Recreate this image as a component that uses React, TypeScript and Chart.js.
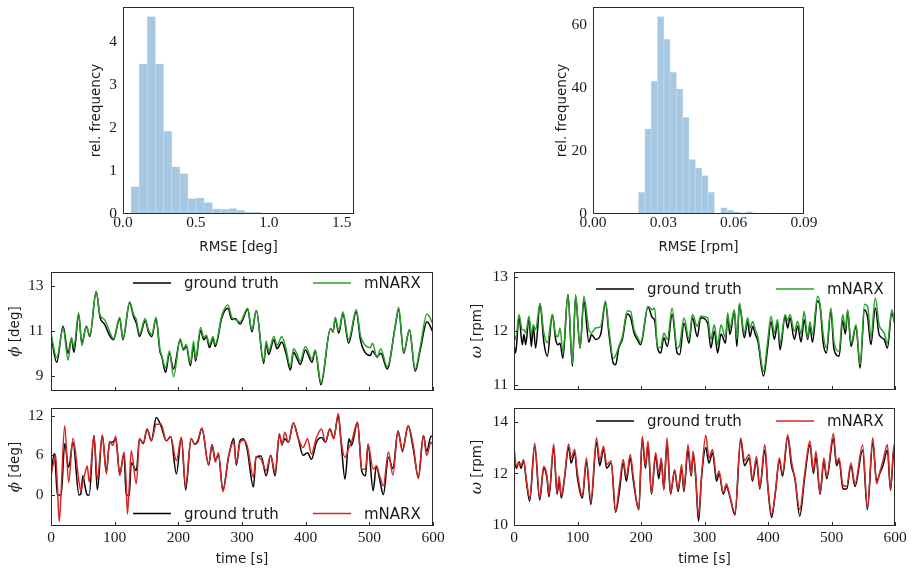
import React, { useEffect, useRef } from "react";
import { Chart, registerables } from "chart.js";

Chart.register(...registerables);

// ---------- histogram data ----------
const rmseDegBinStart = 0.055;
const rmseDegBinWidth = 0.0558;
const rmseDegFreq = [
  0.64, 3.49, 4.59, 3.49, 1.92, 1.1, 0.94, 0.36, 0.37, 0.27, 0.12, 0.11, 0.13,
  0.085, 0.04, 0.04, 0.015, 0, 0.012, 0.012, 0.012, 0, 0.012, 0, 0, 0.012,
];
const rmseRpmBinStart = 0.0194;
const rmseRpmBinWidth = 0.0027;
const rmseRpmFreq = [
  6.9, 27.0, 42.1, 62.6, 55.4, 44.9, 39.6, 30.7, 17.3, 14.6, 12.2, 6.9, 0.3,
  2.0, 1.2, 0.7, 0.4, 0.8, 0.4, 0.3, 0.2, 0.4, 0.1,
];

const rmseDegTicksX = [0, 0.5, 1.0, 1.5];
const rmseDegTicksY = [0, 1, 2, 3, 4];
const rmseRpmTicksX = [0, 0.03, 0.06, 0.09];
const rmseRpmTicksY = [0, 20, 40, 60];
const timeTicks = [0, 100, 200, 300, 400, 500, 600];

// ---------- pitch angle, validation run A ----------
const pitchTimeA = [
  0, 9, 19, 27, 32, 36, 43.5, 48.5, 55.5, 61, 71, 77, 84, 93, 98, 108, 113,
  123.5, 130, 134, 139, 148, 153, 158.5, 165, 171, 174, 180, 186, 192.5, 203,
  208, 212.5, 219, 224, 227, 235, 240, 244, 249, 254.5, 258, 268.5, 278, 284,
  289.5, 297, 309, 315.5, 322.5, 334, 338, 342, 350, 355, 362.5, 369, 376, 381,
  386, 391.5, 399.5, 410, 415, 424, 439, 443, 446.5, 452, 458.5, 467.5, 479.5,
  486, 491, 501.5, 505, 512, 518, 528, 541, 546, 554, 563, 572, 580, 590.5, 600,
];
const pitchTruthA = [
  10.8, 9.6, 11.2, 10.0, 10.65, 10.05, 11.7, 10.45, 11.2, 10.75, 12.75, 11.6,
  11.3, 10.75, 10.6, 11.55, 10.6, 12.25, 11.6, 11.35, 10.75, 11.45, 10.95,
  10.75, 11.55, 10.1, 9.85, 9.15, 10.0, 9.3, 10.6, 10.15, 10.3, 9.45, 10.35,
  9.65, 11.0, 10.6, 10.75, 10.25, 10.65, 10.3, 11.6, 12.0, 11.5, 11.55, 11.3,
  11.95, 10.95, 11.9, 9.55, 10.4, 9.95, 10.6, 10.2, 10.5, 10.0, 9.25, 10.05,
  9.8, 9.5, 10.15, 9.6, 10.1, 8.6, 11.1, 10.95, 11.55, 10.9, 11.75, 10.45,
  11.85, 10.6, 10.15, 9.9, 10.1, 9.85, 10.0, 9.3, 11.25, 11.95, 10.0, 11.05,
  9.2, 10.15, 11.4, 10.95,
];
const pitchModelA = [
  10.9, 9.8, 11.1, 9.7, 10.7, 10.3, 11.8, 10.35, 11.2, 10.8, 12.75, 11.7, 11.5,
  10.9, 10.65, 11.6, 10.65, 12.3, 11.7, 11.5, 10.85, 11.55, 11.05, 10.85, 11.6,
  10.2, 9.9, 9.35, 10.1, 8.95, 10.65, 10.2, 10.4, 9.55, 10.55, 9.75, 11.15,
  10.7, 10.8, 10.4, 10.75, 10.4, 11.7, 12.15, 11.6, 11.5, 11.4, 12.0, 11.05,
  11.9, 9.65, 10.55, 10.1, 10.75, 10.35, 10.75, 10.2, 9.4, 10.2, 10.0, 9.65,
  10.3, 9.75, 10.15, 8.7, 11.1, 10.95, 11.6, 11.0, 11.85, 10.6, 11.95, 10.8,
  10.45, 10.25, 10.45, 9.8, 10.2, 9.4, 11.25, 12.05, 10.05, 11.05, 9.3, 10.3,
  11.75, 11.3,
];
const pitchTicksA = [9, 11, 13];

// ---------- pitch angle, validation run B ----------
const pitchTimeB = [
  0, 5, 7, 10, 13, 16, 21.5, 27.7, 34.5, 44, 47, 50, 54, 57, 60, 67.5, 72.8,
  80.6, 87, 92, 97, 101.6, 108, 114.7, 118, 120, 123, 126, 134, 139, 145, 151,
  157.6, 165.4, 173, 181, 188, 197, 204.7, 211.5, 220, 226, 231, 237, 247.6,
  253, 258, 263, 270, 279, 287, 291, 297, 302, 308, 318, 322, 330, 338, 345,
  352, 358.6, 363, 367, 373, 380.6, 388, 396, 403, 409, 417, 425, 431, 438,
  444, 451.3, 456, 461.8, 468, 472, 481.5, 488, 494, 498, 506, 511, 516, 522,
  530, 537, 545, 552, 561, 569, 577, 585, 590, 597, 600,
];
const pitchTruthB = [
  2.7, 6.3, 4.5, 0, 0, 0, 7.8, 4.2, 8.0, 0, 0.2, 2.9, 1.0, 0, 0, 9.0, 0.75,
  9.0, 3.5, 8.0, 8.0, 8.5, 3.2, 6.3, 0, 0, 0, 4.9, 3.7, 8.5, 7.8, 10.0, 8.2,
  11.75, 10.4, 8.2, 8.8, 3.2, 8.7, 0.75, 8.5, 7.7, 8.2, 10.1, 4.5, 7.6, 5.3,
  6.0, 0.76, 5.8, 8.6, 4.5, 8.3, 8.5, 7.0, 1.2, 5.7, 5.9, 2.9, 6.0, 2.9, 9.0,
  7.7, 8.5, 8.0, 10.9, 8.7, 6.0, 6.4, 5.4, 8.0, 8.7, 8.0, 10.0, 8.7, 12.0, 7.5,
  2.4, 8.5, 7.5, 11.0, 3.7, 2.9, 7.7, 0.65, 4.4, 2.5, 0.05, 5.7, 4.0, 9.7, 6.8,
  10.5, 7.0, 2.7, 9.0, 6.6, 8.9, 8.8,
];
const pitchModelB = [
  3.4, 5.2, 6.2, 1.5, -4.0, 0.8, 10.5, 1.9, 8.6, 2.0, 0.65, 2.0, 3.5, 4.4, 2.0,
  9.0, 2.4, 9.1, 3.2, 8.1, 7.5, 8.9, 2.9, 6.5, 2.0, -2.9, 1.5, 6.7, 1.7, 8.5,
  7.9, 10.0, 8.2, 10.7, 10.7, 8.2, 8.8, 5.2, 8.7, 1.4, 8.5, 7.7, 8.4, 10.1,
  4.6, 7.6, 5.0, 6.4, 0.5, 6.0, 8.0, 4.8, 8.0, 8.3, 7.5, 2.7, 5.8, 5.4, 3.7,
  6.0, 3.4, 9.3, 7.5, 9.5, 8.0, 10.9, 8.7, 7.2, 8.5, 6.2, 8.7, 10.0, 8.0, 10.0,
  8.5, 12.35, 8.0, 5.7, 7.2, 8.0, 11.0, 3.9, 3.9, 7.7, 3.9, 4.4, 3.0, 1.4, 6.5,
  3.0, 9.7, 6.5, 10.5, 7.5, 2.5, 9.0, 6.0, 8.0, 7.5,
];
const pitchTicksB = [0, 6, 12];

// ---------- rotor speed, validation run A ----------
const speedTimeA = [
  0, 2.6, 7.9, 13, 15.7, 18.4, 23.6, 27.3, 30.4, 34, 41, 47, 52.5, 60.4, 65.6,
  69.3, 72.4, 77, 85, 92, 97, 104, 110, 118, 122, 128.6, 136.5, 144, 149.6,
  156.4, 160, 165, 170.6, 178.5, 183.7, 189, 194, 199.5, 211, 218, 221.5,
  225.7, 231, 236, 241.5, 249, 257, 261, 267.7, 275.6, 281, 288.7, 294, 305,
  310, 315.5, 320.7, 326, 333, 336.5, 340, 347, 351, 355, 362.7, 368, 371.6,
  375.8, 380, 384, 393, 399.5, 404.7, 410, 415, 419, 427, 431, 434.7, 441.5,
  446.8, 452, 457, 462.5, 466, 470, 478, 482, 487, 492, 499, 504, 512, 517.6,
  521.8, 525.5, 530.8, 538.6, 545, 552, 557, 562, 569, 575, 583, 588, 595, 600,
];
const speedTruthA = [
  11.75, 11.6, 12.28, 11.75, 11.94, 11.75, 12.25, 11.72, 12.1, 11.69, 12.5,
  11.8, 11.54, 12.31, 11.85, 11.75, 11.78, 11.5, 12.68, 11.35, 12.65, 11.69,
  12.56, 11.8, 11.94, 11.85, 11.94, 12.53, 11.94, 11.41, 11.38, 11.69, 11.85,
  12.32, 12.25, 11.97, 11.85, 11.75, 12.45, 12.25, 12.2, 11.72, 11.6, 11.88,
  11.72, 12.31, 11.6, 11.57, 12.15, 11.78, 12.25, 11.9, 12.25, 12.15, 11.69,
  12.0, 11.6, 11.95, 11.78, 12.28, 11.94, 12.37, 11.72, 12.5, 11.88, 12.18,
  11.9, 12.09, 11.94, 11.82, 11.17, 11.7, 12.18, 11.85, 12.15, 11.66, 12.28,
  12.06, 12.25, 11.85, 12.1, 11.8, 12.22, 11.85, 12.1, 11.8, 12.56, 12.46,
  11.78, 11.6, 12.37, 11.66, 11.54, 12.2, 11.95, 12.37, 11.72, 12.09, 11.32,
  12.4, 12.25, 11.75, 12.43, 11.94, 11.85, 11.69, 12.34, 12.12,
];
const speedModelA = [
  11.97, 11.85, 12.31, 12.03, 12.03, 11.97, 12.28, 11.94, 12.12, 12.03, 12.52,
  11.97, 11.79, 12.31, 11.94, 11.9, 12.06, 11.62, 12.68, 11.4, 12.68, 11.69,
  12.65, 12.03, 11.97, 12.06, 12.09, 12.56, 12.03, 11.5, 11.55, 11.72, 11.9,
  12.38, 12.37, 12.03, 11.9, 11.8, 12.46, 12.4, 12.43, 11.72, 11.7, 11.97,
  11.85, 12.43, 11.69, 11.75, 12.25, 11.85, 12.31, 12.09, 12.28, 12.25, 11.85,
  12.12, 11.75, 12.12, 11.88, 12.34, 12.06, 12.4, 11.85, 12.52, 11.97, 12.25,
  12.06, 12.18, 12.03, 11.9, 11.26, 11.82, 12.28, 11.97, 12.22, 11.78, 12.31,
  12.2, 12.31, 12.0, 12.18, 11.95, 12.37, 11.88, 12.18, 11.94, 12.65, 12.5,
  11.94, 11.69, 12.43, 11.8, 11.63, 12.31, 12.05, 12.4, 11.78, 12.12, 11.38,
  12.5, 12.46, 11.88, 12.62, 12.12, 11.97, 11.78, 12.4, 12.12,
];
const speedTicksA = [11, 12, 13];

// ---------- rotor speed, validation run B ----------
const speedTimeB = [
  0, 3.7, 8, 11, 15, 19.4, 24.7, 32.6, 40.5, 46.8, 52, 55, 62.5, 67.8, 71,
  74.6, 79.5, 86, 90, 95.6, 99.5, 107.7, 114, 121, 130, 135, 141, 146, 153,
  160, 166, 172, 177, 183, 188, 196.5, 202, 207, 211, 216.5, 223, 228, 232,
  236, 241, 246.5, 253, 258.5, 264, 267.5, 274, 279, 282, 286, 290.6, 295.5,
  302, 307, 312.7, 319, 323, 329.5, 334.5, 340, 348, 357, 363, 370.5, 375.5,
  382, 387, 395, 400, 405.7, 412, 417.8, 423, 431, 437, 442.5, 450, 458, 466,
  471.5, 475.5, 482, 488, 492.5, 503, 508, 512, 518, 524, 530.5, 537, 549,
  556.5, 565, 571, 576, 581, 588, 593, 598.5, 600,
];
const speedTruthB = [
  12.7, 12.2, 12.45, 12.2, 12.5, 11.7, 10.93, 13.05, 10.98, 12.2, 11.8, 11.1,
  13.0, 11.2, 11.7, 11.05, 11.8, 13.0, 12.4, 12.8, 11.9, 11.05, 12.45, 10.8,
  13.2, 12.3, 12.95, 12.2, 12.4, 10.5, 11.3, 12.4, 11.7, 12.6, 11.7, 10.6,
  13.35, 12.2, 13.1, 11.2, 12.7, 11.8, 12.5, 11.4, 13.2, 11.2, 12.1, 11.3,
  12.2, 11.3, 12.9, 11.9, 12.7, 11.9, 10.16, 11.9, 13.0, 12.4, 12.8, 11.7,
  12.0, 11.2, 11.5, 11.1, 10.4, 13.3, 12.3, 12.6, 11.7, 12.5, 11.4, 12.9, 11.4,
  10.3, 11.35, 12.5, 11.9, 13.4, 12.3, 11.8, 10.35, 11.9, 13.1, 12.0, 12.65,
  11.2, 12.45, 11.8, 13.35, 12.3, 12.5, 11.4, 11.4, 12.3, 11.5, 12.9, 10.6,
  13.2, 11.7, 12.0, 12.3, 12.9, 11.35, 13.0, 12.2,
];
const speedModelB = [
  13.05, 12.28, 12.4, 12.3, 12.54, 11.77, 11.06, 13.18, 11.06, 12.28, 11.9,
  11.19, 13.14, 11.25, 11.9, 11.13, 11.85, 13.14, 12.6, 12.93, 12.1, 11.13,
  12.6, 10.93, 13.38, 12.5, 13.05, 12.35, 12.48, 10.55, 11.55, 12.54, 11.85,
  12.73, 11.85, 10.61, 13.44, 12.3, 13.25, 11.25, 12.8, 12.0, 12.6, 11.35,
  13.38, 11.25, 12.15, 11.38, 12.35, 11.38, 13.12, 11.96, 12.86, 12.0, 10.35,
  11.96, 13.48, 12.6, 12.93, 11.85, 12.1, 11.25, 11.6, 11.13, 10.48, 13.38,
  12.5, 12.73, 11.77, 12.67, 11.45, 13.12, 11.45, 10.42, 11.35, 12.6, 12.0,
  13.5, 12.48, 11.77, 10.61, 12.03, 13.25, 12.1, 12.86, 11.25, 12.6, 11.87,
  13.54, 12.4, 12.6, 11.55, 11.5, 12.4, 11.6, 13.1, 10.68, 13.38, 11.6, 12.05,
  12.48, 13.12, 11.38, 13.12, 12.48,
];
const speedTicksB = [10, 12, 14];

const truthLabel = "ground truth";
const modelLabel = "mNARX";

// ---------- styling ----------
const SERIF = '"Liberation Serif", "Times New Roman", serif';
const SANS = '"DejaVu Sans", "Noto Sans", sans-serif';
const MATH = '"DejaVu Serif", serif';
const INK = "#1a1a1a";
const FRAME = "#2b2b2b";
const HIST_FILL = "#a6c8e2";
const HIST_EDGE = "#c3d9ea";
const GREEN = "#2ca02c";
const RED = "#d62728";
const TICK_FONT = { family: SERIF, size: 15.5 };
const TICK_LEN = 4;

type Rect = { l: number; t: number; r: number; b: number };
type Margin = { ml: number; mt: number; mr: number; mb: number };
type TextPart = { text: string; font: string };

// frame, inward tick marks, legend and axis titles
const panelDecor = {
  id: "panelDecor",
  afterDraw(chart: any, _args: any, o: any) {
    const { ctx, chartArea: a } = chart;
    ctx.save();
    ctx.strokeStyle = FRAME;
    ctx.lineWidth = 1;
    if (o.innerTicks) {
      const xs = chart.scales.x;
      const ys = chart.scales.y;
      ctx.beginPath();
      xs.ticks.forEach((t: any) => {
        const p = Math.round(xs.getPixelForValue(t.value)) + 0.5;
        ctx.moveTo(p, a.bottom);
        ctx.lineTo(p, a.bottom - TICK_LEN);
      });
      ys.ticks.forEach((t: any) => {
        const p = Math.round(ys.getPixelForValue(t.value)) + 0.5;
        ctx.moveTo(a.left, p);
        ctx.lineTo(a.left + TICK_LEN, p);
      });
      ctx.stroke();
    }
    ctx.strokeRect(a.left + 0.5, a.top + 0.5, a.right - a.left - 1, a.bottom - a.top - 1);

    if (o.legend) {
      const L = o.legend;
      const y = L.fromBottom ? a.bottom - L.dy : a.top + L.dy;
      ctx.font = `15px ${SANS}`;
      ctx.textBaseline = "middle";
      ctx.textAlign = "left";
      L.items.forEach((it: any) => {
        ctx.strokeStyle = it.color;
        ctx.lineWidth = 1.5;
        ctx.beginPath();
        ctx.moveTo(a.left + it.x0, y);
        ctx.lineTo(a.left + it.x1, y);
        ctx.stroke();
        ctx.fillStyle = INK;
        ctx.fillText(it.label, a.left + it.tx, y + L.textShift);
      });
    }

    ctx.fillStyle = INK;
    ctx.textBaseline = "middle";
    if (o.yTitle) {
      const parts: TextPart[] = o.yTitle.parts;
      ctx.save();
      ctx.translate(a.left + o.yTitle.dx, (a.top + a.bottom) / 2);
      ctx.rotate(-Math.PI / 2);
      let total = 0;
      parts.forEach((p) => {
        ctx.font = p.font;
        total += ctx.measureText(p.text).width;
      });
      let x = -total / 2;
      ctx.textAlign = "left";
      parts.forEach((p) => {
        ctx.font = p.font;
        ctx.fillText(p.text, x, 0);
        x += ctx.measureText(p.text).width;
      });
      ctx.restore();
    }
    if (o.xTitle) {
      ctx.font = `13.5px ${SANS}`;
      ctx.textAlign = "center";
      ctx.fillText(o.xTitle.text, (a.left + a.right) / 2, a.bottom + o.xTitle.dy);
    }
    ctx.restore();
  },
};

const fixedTicks = (values: number[]) => (scale: any) => {
  scale.ticks = values.map((v) => ({ value: v }));
};

const hiddenGrid = { display: false, drawTicks: false };

function histConfig(p: {
  start: number;
  width: number;
  freq: number[];
  xMax: number;
  yMax: number;
  xTicks: number[];
  yTicks: number[];
  digits: number;
  margin: Margin;
  xTitle: string;
  yTitleDx: number;
}) {
  const data = p.freq.map((f, i) => ({ x: p.start + p.width * (i + 0.5), y: f }));
  return {
    type: "bar",
    data: {
      datasets: [
        {
          data,
          backgroundColor: HIST_FILL,
          borderColor: HIST_EDGE,
          borderWidth: { left: 0.7, right: 0.7, top: 0, bottom: 0 },
          barPercentage: 1,
          categoryPercentage: 1,
        },
      ],
    },
    options: {
      animation: false,
      responsive: false,
      events: [],
      layout: { padding: { top: p.margin.mt, right: p.margin.mr, left: 0, bottom: 0 } },
      plugins: {
        legend: { display: false },
        tooltip: { enabled: false },
        panelDecor: {
          innerTicks: false,
          yTitle: { dx: p.yTitleDx, parts: [{ text: "rel. frequency", font: `13.5px ${SANS}` }] },
          xTitle: { text: p.xTitle, dy: 33 },
        },
      },
      scales: {
        x: {
          type: "linear",
          min: 0,
          max: p.xMax,
          offset: false,
          grid: hiddenGrid,
          border: { display: false },
          afterBuildTicks: fixedTicks(p.xTicks),
          afterFit: (s: any) => {
            s.height = p.margin.mb;
          },
          ticks: {
            font: TICK_FONT,
            color: INK,
            padding: 0,
            autoSkip: false,
            maxRotation: 0,
            callback: (v: any) => Number(v).toFixed(p.digits),
          },
        },
        y: {
          min: 0,
          max: p.yMax,
          grid: hiddenGrid,
          border: { display: false },
          afterBuildTicks: fixedTicks(p.yTicks),
          afterFit: (s: any) => {
            s.width = p.margin.ml;
          },
          ticks: { font: TICK_FONT, color: INK, padding: 6, autoSkip: false },
        },
      },
    },
    plugins: [panelDecor],
  };
}

function seriesConfig(p: {
  time: number[];
  truth: number[];
  model: number[];
  color: string;
  yMin: number;
  yMax: number;
  yTicks: number[];
  showTime: boolean;
  margin: Margin;
  yParts: TextPart[];
  yTitleDx: number;
  yPad: number;
  legendFromBottom: boolean;
  legendDy: number;
}) {
  const xy = (vals: number[]) => p.time.map((t, i) => ({ x: t, y: vals[i] }));
  const line = { pointRadius: 0, borderWidth: 1.5, cubicInterpolationMode: "monotone", fill: false };
  return {
    type: "line",
    data: {
      datasets: [
        { ...line, label: modelLabel, data: xy(p.model), borderColor: p.color, order: 1 },
        { ...line, label: truthLabel, data: xy(p.truth), borderColor: "#000000", order: 2 },
      ],
    },
    options: {
      animation: false,
      responsive: false,
      events: [],
      layout: { padding: { top: p.margin.mt, right: p.margin.mr, left: 0, bottom: 0 } },
      plugins: {
        legend: { display: false },
        tooltip: { enabled: false },
        panelDecor: {
          innerTicks: true,
          yTitle: { dx: p.yTitleDx, parts: p.yParts },
          xTitle: p.showTime ? { text: "time [s]", dy: 33 } : null,
          legend: {
            fromBottom: p.legendFromBottom,
            dy: p.legendDy,
            textShift: 1.5,
            items: [
              { label: truthLabel, color: "#000000", x0: 82, x1: 120, tx: 133 },
              { label: modelLabel, color: p.color, x0: 262, x1: 300, tx: 313 },
            ],
          },
        },
      },
      scales: {
        x: {
          type: "linear",
          min: 0,
          max: 600,
          grid: hiddenGrid,
          border: { display: false },
          afterBuildTicks: fixedTicks(timeTicks),
          afterFit: (s: any) => {
            s.height = p.margin.mb;
          },
          ticks: {
            display: p.showTime,
            font: TICK_FONT,
            color: INK,
            padding: 3,
            autoSkip: false,
            maxRotation: 0,
          },
        },
        y: {
          min: p.yMin,
          max: p.yMax,
          grid: hiddenGrid,
          border: { display: false },
          afterBuildTicks: fixedTicks(p.yTicks),
          afterFit: (s: any) => {
            s.width = p.margin.ml;
          },
          ticks: { font: TICK_FONT, color: INK, padding: p.yPad, autoSkip: false },
        },
      },
    },
    plugins: [panelDecor],
  };
}

function Panel({ rect, margin, config }: { rect: Rect; margin: Margin; config: () => any }) {
  const ref = useRef<HTMLCanvasElement>(null);
  const w = rect.r - rect.l + margin.ml + margin.mr;
  const h = rect.b - rect.t + margin.mt + margin.mb;
  useEffect(() => {
    const chart = new Chart(ref.current as HTMLCanvasElement, config());
    return () => chart.destroy();
  }, []);
  return (
    <canvas
      ref={ref}
      width={w}
      height={h}
      style={{ position: "absolute", left: rect.l - margin.ml, top: rect.t - margin.mt, width: w, height: h }}
    />
  );
}

const phiParts: TextPart[] = [
  { text: "ϕ", font: `italic 15px ${MATH}` },
  { text: " [deg]", font: `13.5px ${SANS}` },
];
const omegaParts: TextPart[] = [
  { text: "ω", font: `italic 15px ${MATH}` },
  { text: " [rpm]", font: `13.5px ${SANS}` },
];

const rectDegHist: Rect = { l: 123, t: 7, r: 354, b: 214 };
const rectRpmHist: Rect = { l: 593, t: 7, r: 804, b: 214 };
const rectPitchA: Rect = { l: 51, t: 272, r: 433, b: 391 };
const rectPitchB: Rect = { l: 51, t: 408, r: 433, b: 526 };
const rectSpeedA: Rect = { l: 514, t: 272, r: 895, b: 390 };
const rectSpeedB: Rect = { l: 514, t: 408, r: 895, b: 526 };

// generous top/bottom room keeps the axis label padding from shrinking the plot area
const mHist: Margin = { ml: 62, mt: 24, mr: 16, mb: 45 };
const mLeftTop: Margin = { ml: 51, mt: 24, mr: 16, mb: 24 };
const mLeftBottom: Margin = { ml: 51, mt: 24, mr: 16, mb: 45 };
const mRightTop: Margin = { ml: 62, mt: 24, mr: 16, mb: 24 };
const mRightBottom: Margin = { ml: 62, mt: 24, mr: 16, mb: 45 };

export default function App() {
  return (
    <div
      style={{
        position: "absolute",
        left: 0,
        top: 0,
        width: 913,
        height: 573,
        background: "#ffffff",
        overflow: "hidden",
      }}
    >
      <Panel
        rect={rectDegHist}
        margin={mHist}
        config={() =>
          histConfig({
            start: rmseDegBinStart,
            width: rmseDegBinWidth,
            freq: rmseDegFreq,
            xMax: 1.584,
            yMax: 4.81,
            xTicks: rmseDegTicksX,
            yTicks: rmseDegTicksY,
            digits: 1,
            margin: mHist,
            xTitle: "RMSE [deg]",
            yTitleDx: -26.5,
          })
        }
      />
      <Panel
        rect={rectRpmHist}
        margin={mHist}
        config={() =>
          histConfig({
            start: rmseRpmBinStart,
            width: rmseRpmBinWidth,
            freq: rmseRpmFreq,
            xMax: 0.09,
            yMax: 65.6,
            xTicks: rmseRpmTicksX,
            yTicks: rmseRpmTicksY,
            digits: 2,
            margin: mHist,
            xTitle: "RMSE [rpm]",
            yTitleDx: -31,
          })
        }
      />
      <Panel
        rect={rectPitchA}
        margin={mLeftTop}
        config={() =>
          seriesConfig({
            time: pitchTimeA,
            truth: pitchTruthA,
            model: pitchModelA,
            color: GREEN,
            yMin: 8.32,
            yMax: 13.62,
            yTicks: pitchTicksA,
            showTime: false,
            margin: mLeftTop,
            yParts: phiParts,
            yTitleDx: -35.5,
            yPad: 7.5,
            legendFromBottom: false,
            legendDy: 11,
          })
        }
      />
      <Panel
        rect={rectPitchB}
        margin={mLeftBottom}
        config={() =>
          seriesConfig({
            time: pitchTimeB,
            truth: pitchTruthB,
            model: pitchModelB,
            color: RED,
            yMin: -4.69,
            yMax: 13.17,
            yTicks: pitchTicksB,
            showTime: true,
            margin: mLeftBottom,
            yParts: phiParts,
            yTitleDx: -35.5,
            yPad: 7.5,
            legendFromBottom: true,
            legendDy: 12.5,
          })
        }
      />
      <Panel
        rect={rectSpeedA}
        margin={mRightTop}
        config={() =>
          seriesConfig({
            time: speedTimeA,
            truth: speedTruthA,
            model: speedModelA,
            color: GREEN,
            yMin: 10.913,
            yMax: 13.098,
            yTicks: speedTicksA,
            showTime: false,
            margin: mRightTop,
            yParts: omegaParts,
            yTitleDx: -37,
            yPad: 6,
            legendFromBottom: false,
            legendDy: 17,
          })
        }
      />
      <Panel
        rect={rectSpeedB}
        margin={mRightBottom}
        config={() =>
          seriesConfig({
            time: speedTimeB,
            truth: speedTruthB,
            model: speedModelB,
            color: RED,
            yMin: 9.97,
            yMax: 14.53,
            yTicks: speedTicksB,
            showTime: true,
            margin: mRightBottom,
            yParts: omegaParts,
            yTitleDx: -37,
            yPad: 6,
            legendFromBottom: false,
            legendDy: 13,
          })
        }
      />
    </div>
  );
}
